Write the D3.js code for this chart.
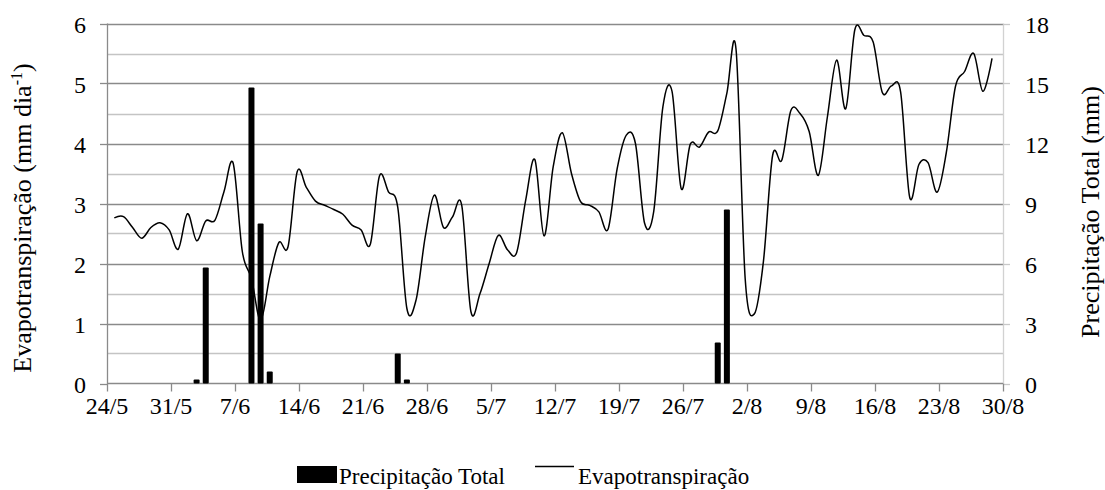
<!DOCTYPE html>
<html>
<head>
<meta charset="UTF-8">
<title>Evapotranspiração e Precipitação</title>
<script src="https://d3js.org/d3.v7.min.js"></script>
<style>
    body { margin: 0; background: #fff; }
</style>
</head>
<body>
<svg id="chart" width="1105" height="490"></svg>
<script>
    // x axis tick labels (one per week)
    const tickLabels = ["24/5", "31/5", "7/6", "14/6", "21/6", "28/6", "5/7", "12/7",
        "19/7", "26/7", "2/8", "9/8", "16/8", "23/8", "30/8"];

    // daily evapotranspiration (mm dia-1), starting on 24/5
    const evapoStart = "24/5";
    const evapo = [
        2.76, 2.78, 2.60, 2.42, 2.60, 2.68, 2.56, 2.24, 2.83, 2.38,
        2.71, 2.72, 3.20, 3.67, 2.20, 1.75, 1.05, 1.78, 2.35, 2.28,
        3.53, 3.27, 3.04, 2.97, 2.90, 2.82, 2.64, 2.56, 2.32, 3.46,
        3.19, 2.94, 1.25, 1.39, 2.44, 3.14, 2.60, 2.78, 2.97, 1.20,
        1.50, 2.00, 2.47, 2.23, 2.18, 3.06, 3.73, 2.46, 3.61, 4.18,
        3.50, 3.03, 2.97, 2.86, 2.57, 3.58, 4.14, 4.00, 2.67, 2.87,
        4.61, 4.87, 3.25, 3.99, 3.94, 4.19, 4.21, 4.84, 5.57, 1.75,
        1.16, 2.04, 3.80, 3.72, 4.55, 4.50, 4.20, 3.47, 4.45, 5.39,
        4.58, 5.90, 5.80, 5.69, 4.85, 4.96, 4.86, 3.10, 3.65, 3.68,
        3.19, 3.85, 4.95, 5.20, 5.50, 4.87, 5.42
    ];

    // total precipitation (mm)
    const rainDates = ["2/6", "3/6", "8/6", "9/6", "10/6", "24/6", "25/6", "29/7", "30/7"];
    const rainValues = [0.2, 5.8, 14.8, 8.0, 0.6, 1.5, 0.2, 2.05, 8.7];

    const leftTicks = [0, 1, 2, 3, 4, 5, 6];
    const rightTicks = [0, 3, 6, 9, 12, 15, 18];

    const FONT = "'Liberation Serif'";

    const parseDay = s => {
        const [d, m] = s.split('/').map(Number);
        return new Date(2013, m - 1, d, 12);
    };

    const svg = d3.select('#chart');
    const plot = { left: 107, right: 1003, top: 23.5, bottom: 383.5 };

    const x = d3.scaleTime()
        .domain([parseDay(tickLabels[0]), parseDay(tickLabels[tickLabels.length - 1])])
        .range([plot.left, plot.right]);
    const yLeft = d3.scaleLinear().domain([0, 6]).range([plot.bottom, plot.top]);
    const yRight = d3.scaleLinear().domain([0, 18]).range([plot.bottom, plot.top]);

    const dayWidth = x(parseDay("25/5")) - x(parseDay("24/5"));
    const slotOffset = dayWidth * 0.8; // points sit inside their day slot

    // gridlines: half steps light, whole steps darker
    const gridVals = d3.range(0.5, 6.01, 0.5);
    svg.append('g').selectAll('line')
        .data(gridVals.filter(v => v % 1 !== 0))
        .enter().append('line')
        .attr('x1', plot.left).attr('x2', plot.right)
        .attr('y1', d => Math.round(yLeft(d)) + 0.5).attr('y2', d => Math.round(yLeft(d)) + 0.5)
        .attr('stroke', '#c4c4c4').attr('stroke-width', 1.3);
    svg.append('g').selectAll('line')
        .data(leftTicks.filter(v => v > 0))
        .enter().append('line')
        .attr('x1', plot.left).attr('x2', plot.right)
        .attr('y1', d => Math.round(yLeft(d)) + 0.5).attr('y2', d => Math.round(yLeft(d)) + 0.5)
        .attr('stroke', '#8a8a8a').attr('stroke-width', 1.3);

    // axes lines
    svg.append('line')
        .attr('x1', plot.right + 0.5).attr('x2', plot.right + 0.5)
        .attr('y1', plot.top).attr('y2', plot.bottom)
        .attr('stroke', '#d2d2d2').attr('stroke-width', 1.3);
    svg.append('line')
        .attr('x1', plot.left + 0.5).attr('x2', plot.left + 0.5)
        .attr('y1', plot.top).attr('y2', plot.bottom)
        .attr('stroke', '#8a8a8a').attr('stroke-width', 1.3);
    svg.append('line')
        .attr('x1', plot.left).attr('x2', plot.right)
        .attr('y1', plot.bottom).attr('y2', plot.bottom)
        .attr('stroke', '#8a8a8a').attr('stroke-width', 1.3);

    // left axis ticks + labels
    const leftAxis = svg.append('g');
    leftAxis.selectAll('line').data(leftTicks).enter().append('line')
        .attr('x1', plot.left - 7).attr('x2', plot.left)
        .attr('y1', d => Math.round(yLeft(d)) + 0.5).attr('y2', d => Math.round(yLeft(d)) + 0.5)
        .attr('stroke', '#8a8a8a').attr('stroke-width', 1.3);
    leftAxis.selectAll('text').data(leftTicks).enter().append('text')
        .attr('x', 86).attr('y', d => yLeft(d) + 9)
        .attr('text-anchor', 'end').style('font-family', FONT).style('font-size', '24px')
        .text(d => d);

    // right axis ticks + labels
    const rightAxis = svg.append('g');
    rightAxis.selectAll('line').data(rightTicks).enter().append('line')
        .attr('x1', plot.right).attr('x2', plot.right + 7)
        .attr('y1', d => Math.round(yRight(d)) + 0.5).attr('y2', d => Math.round(yRight(d)) + 0.5)
        .attr('stroke', '#c8c8c8').attr('stroke-width', 1.3);
    rightAxis.selectAll('text').data(rightTicks).enter().append('text')
        .attr('x', 1025).attr('y', d => yRight(d) + 9)
        .attr('text-anchor', 'start').style('font-family', FONT).style('font-size', '24px')
        .text(d => d);

    // bottom axis ticks + labels
    const bottomAxis = svg.append('g');
    bottomAxis.selectAll('line').data(tickLabels).enter().append('line')
        .attr('x1', d => Math.round(x(parseDay(d))) + 0.5).attr('x2', d => Math.round(x(parseDay(d))) + 0.5)
        .attr('y1', plot.bottom).attr('y2', plot.bottom + 8)
        .attr('stroke', '#8a8a8a').attr('stroke-width', 1.3);
    bottomAxis.selectAll('text').data(tickLabels).enter().append('text')
        .attr('x', d => x(parseDay(d))).attr('y', 414)
        .attr('text-anchor', 'middle').style('font-family', FONT).style('font-size', '24px')
        .text(d => d);

    // precipitation bars
    svg.append('g').selectAll('rect')
        .data(rainValues)
        .enter().append('rect')
        .attr('x', (d, i) => x(parseDay(rainDates[i])) + slotOffset - 3)
        .attr('width', 6)
        .attr('y', d => yRight(d))
        .attr('height', d => yRight(0) - yRight(d))
        .attr('rx', 1)
        .attr('fill', '#000');

    // evapotranspiration line (smoothed)
    const start = parseDay(evapoStart);
    const line = d3.line()
        .x((d, i) => x(d3.timeDay.offset(start, i)) + slotOffset)
        .y(d => yLeft(d))
        .curve(d3.curveCatmullRom.alpha(0));
    svg.append('path')
        .datum(evapo)
        .attr('d', line)
        .attr('fill', 'none')
        .attr('stroke', '#000')
        .attr('stroke-width', 1.5);

    // axis titles
    const leftTitle = svg.append('text')
        .attr('transform', 'translate(31,218) rotate(-90)')
        .attr('text-anchor', 'middle')
        .style('font-family', FONT).style('font-size', '26px');
    leftTitle.append('tspan').text('Evapotranspiração (mm dia');
    leftTitle.append('tspan').style('font-size', '16px').attr('dy', -9).text('-1');
    leftTitle.append('tspan').attr('dy', 9).text(')');

    svg.append('text')
        .attr('transform', 'translate(1099,212) rotate(-90)')
        .attr('text-anchor', 'middle')
        .style('font-family', FONT).style('font-size', '26px')
        .text('Precipitação Total (mm)');

    // legend
    const legend = svg.append('g');
    legend.append('rect')
        .attr('x', 297).attr('y', 466).attr('width', 40).attr('height', 17)
        .attr('fill', '#000');
    legend.append('text')
        .attr('x', 339).attr('y', 484)
        .style('font-family', FONT).style('font-size', '23px')
        .text('Precipitação Total');
    legend.append('line')
        .attr('x1', 535).attr('x2', 574).attr('y1', 466.5).attr('y2', 466.5)
        .attr('stroke', '#000').attr('stroke-width', 1.5);
    legend.append('text')
        .attr('x', 578).attr('y', 484)
        .style('font-family', FONT).style('font-size', '23px')
        .text('Evapotranspiração');
</script>
</body>
</html>
